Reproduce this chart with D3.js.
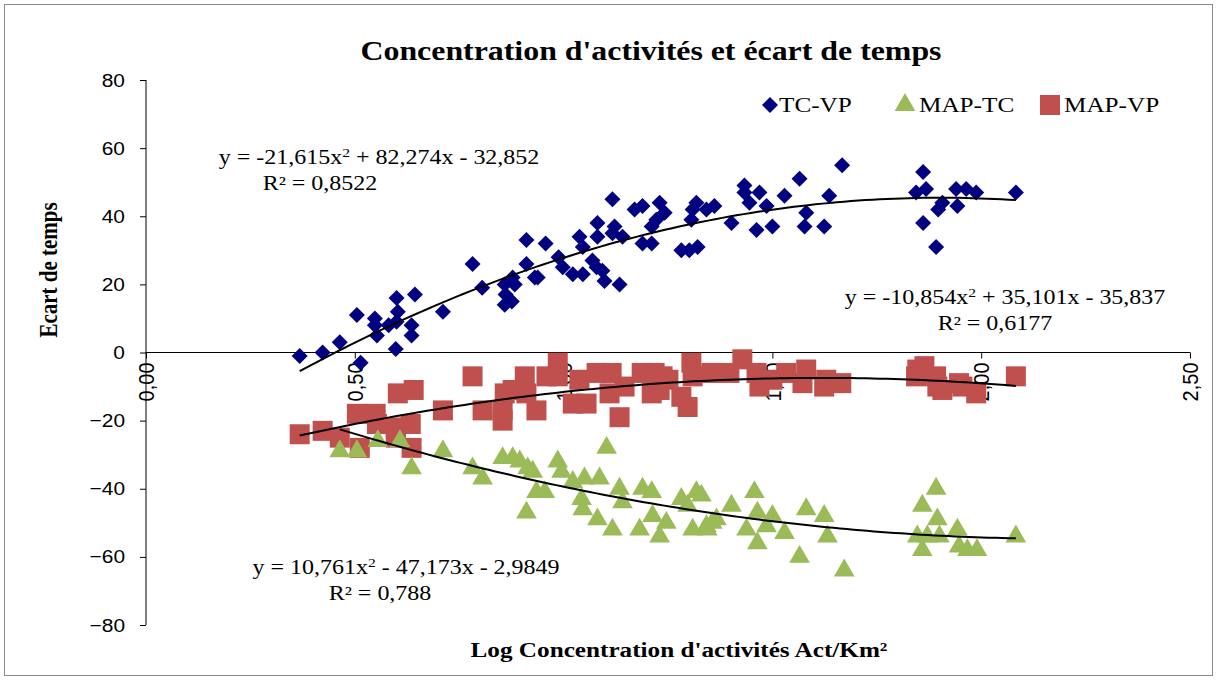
<!DOCTYPE html>
<html><head><meta charset="utf-8">
<script src="https://cdn.jsdelivr.net/npm/d3@7"></script>
<style>body{margin:0;background:#fff}svg{display:block}</style>
</head><body><svg id="c" width="1217" height="680"></svg>
<script>
const xTicks = [0, 0.5, 1.0, 1.5, 2.0, 2.5];
const yTicks = [80, 60, 40, 20, 0, -20, -40, -60, -80];

const tcvpX = [0.368,0.423,0.464,0.505,0.514,0.548,0.548,0.553,0.581,0.600,0.603,0.600,0.598,0.636,0.636,0.644,0.711,0.782,0.805,0.859,0.878,0.883,0.861,0.859,0.876,0.911,0.911,0.931,0.938,0.957,0.988,0.998,1.022,1.046,1.038,1.046,1.081,1.081,1.069,1.079,1.093,1.098,1.117,1.122,1.117,1.141,1.134,1.170,1.189,1.189,1.211,1.230,1.222,1.211,1.242,1.282,1.301,1.321,1.318,1.309,1.306,1.342,1.361,1.402,1.433,1.433,1.445,1.469,1.462,1.486,1.500,1.529,1.565,1.581,1.577,1.624,1.636,1.667,1.861,1.844,1.868,1.907,1.897,1.940,1.964,1.988,1.943,1.861,1.892,2.083];
const tcvpY = [-1,0,3,11,-3,10,8,5,8,16,12,9,1,8,5,17,12,26,19,20,22,20,17,14,15,33,26,22,22,32,28,25,23,23,34,31,38,34,27,25,24,21,45,37,35,34,20,42,43,32,32,44,39,37,41,30,30,31,44,42,39,42,43,38,49,47,44,47,36,43,37,46,51,41,37,37,46,55,53,47,48,44,42,48,48,47,43,38,31,47];

const maptcX = [0.464,0.505,0.555,0.608,0.636,0.711,0.782,0.806,0.854,0.878,0.895,0.914,0.926,0.935,0.955,0.911,0.986,0.995,1.022,1.050,1.043,1.046,1.086,1.081,1.103,1.134,1.117,1.141,1.189,1.211,1.182,1.213,1.230,1.246,1.282,1.318,1.297,1.309,1.342,1.366,1.330,1.356,1.344,1.402,1.457,1.464,1.438,1.464,1.500,1.486,1.529,1.581,1.565,1.624,1.632,1.672,1.892,1.859,1.895,1.847,1.871,1.900,1.943,1.859,1.947,1.967,1.990,2.083];
const maptcY = [-29,-29,-26,-26,-34,-29,-34,-37,-31,-31,-32,-34,-35,-41,-41,-47,-32,-35,-38,-37,-43,-46,-37,-49,-28,-40,-52,-44,-40,-41,-52,-48,-54,-50,-43,-41,-45,-52,-51,-49,-42,-50,-52,-45,-41,-47,-52,-56,-48,-51,-53,-46,-60,-48,-54,-64,-40,-45,-49,-54,-54,-54,-52,-58,-57,-58,-58,-54];

const mapvpX = [0.368,0.423,0.464,0.512,0.505,0.550,0.553,0.603,0.641,0.634,0.598,0.598,0.636,0.711,0.782,0.806,0.854,0.859,0.878,0.854,0.907,0.911,0.935,0.959,0.986,0.986,1.022,1.038,1.055,1.079,1.115,1.110,1.134,1.146,1.187,1.211,1.237,1.218,1.230,1.251,1.282,1.306,1.309,1.297,1.354,1.397,1.428,1.462,1.469,1.500,1.533,1.581,1.572,1.624,1.629,1.665,1.847,1.864,1.844,1.892,1.895,1.907,1.947,1.955,1.988,2.083];
const mapvpY = [-24,-23,-25,-28,-18,-18,-21,-12,-11,-21,-22,-25,-28,-17,-7,-17,-17,-12,-11,-20,-7,-12,-17,-7,-3,-7,-15,-8,-15,-6,-6,-12,-19,-10,-6,-12,-7,-6,-11,-8,-13,-3,-7,-16,-6,-6,-2,-6,-10,-8,-6,-5,-9,-10,-8,-9,-5,-4,-7,-7,-10,-11,-9,-10,-12,-7];

const coefTCVP = [-21.615, 82.274, -32.852];
const coefMAPTC = [10.761, -47.173, -2.9849];
const coefMAPVP = [-10.854, 35.101, -35.837];

const svg = d3.select("#c");
svg.append("rect").attr("x",4.5).attr("y",4.5).attr("width",1208).attr("height",671)
  .attr("fill","#fff").attr("stroke","#898989").attr("stroke-width",1);

const x = d3.scaleLinear().domain([0,2.5]).range([146,1190]);
const y = d3.scaleLinear().domain([-80,80]).range([625,80]);
const SX = 1.2; // horizontal text stretch

// y axis
const ya = svg.append("g").attr("transform","translate(146,0)")
  .call(d3.axisLeft(y).tickValues(yTicks).tickSize(6).tickPadding(0).tickFormat(d3.format("d")));
ya.selectAll("path,line").attr("stroke","#000");
ya.select("path").attr("d","M0,80V625");
ya.selectAll("text").attr("font-family","Liberation Sans, Arial").attr("font-size",19).attr("fill","#000")
  .attr("x",0).attr("transform","translate(-21,0) scale(1.1,1)");

// x axis at y=0
const xa = svg.append("g").attr("transform",`translate(0,${y(0)})`)
  .call(d3.axisBottom(x).tickValues(xTicks).tickSize(6).tickFormat(d=>d3.format(".2f")(d).replace(".",",")));
xa.selectAll("path,line").attr("stroke","#000");
xa.select("path").attr("d",`M146,0H1190`);
xa.selectAll("text").attr("font-family","Liberation Sans, Arial").attr("font-size",20).attr("fill","#000")
  .attr("text-anchor","end").attr("transform","scale(1.1,1) rotate(-90)").attr("x",-10).attr("y",0).attr("dy","0.35em");

// markers
const green = "#9BBB59", red = "#C0504D", navy = "#000080";
function mk(X,Y){return X.map((v,i)=>({x:v,y:Y[i]}));}
const sq = d3.symbol().type(d3.symbolSquare).size(400);
const tri = d3.symbol().type(d3.symbolTriangle).size(185);
const diaPath = d3.path(); const r=8; diaPath.moveTo(0,-r); diaPath.lineTo(r,0); diaPath.lineTo(0,r); diaPath.lineTo(-r,0); diaPath.closePath();
const dia = diaPath.toString();

svg.append("g").selectAll("path").data(mk(mapvpX,mapvpY)).join("path")
  .attr("d",sq).attr("transform",d=>`translate(${x(d.x)},${y(d.y)})`).attr("fill",red);
svg.append("g").selectAll("path").data(mk(maptcX,maptcY)).join("path")
  .attr("d",tri).attr("transform",d=>`translate(${x(d.x)},${y(d.y)})`).attr("fill",green);
svg.append("g").selectAll("path").data(mk(tcvpX,tcvpY)).join("path")
  .attr("d",dia).attr("transform",d=>`translate(${x(d.x)},${y(d.y)})`).attr("fill",navy);

// trend lines
function trend(coef, X){
  const lo=d3.min(X), hi=d3.max(X);
  const pts=d3.range(0,101).map(i=>{const t=lo+(hi-lo)*i/100;return [t,coef[0]*t*t+coef[1]*t+coef[2]];});
  svg.append("path").attr("d",d3.line().x(d=>x(d[0])).y(d=>y(d[1]))(pts))
    .attr("fill","none").attr("stroke","#000").attr("stroke-width",2);
}
trend(coefTCVP,tcvpX); trend(coefMAPTC,maptcX); trend(coefMAPVP,mapvpX);

// texts
const serif = "Liberation Serif, Times New Roman";
function T(tx,ty,anchor,size,bold,sx){
  return svg.append("g").attr("transform",`translate(${tx},${ty}) scale(${sx},1)`)
    .append("text").attr("text-anchor",anchor).attr("font-family",serif)
    .attr("font-weight",bold?"bold":"normal").attr("font-size",size);
}
T(651,60,"middle",27,true,1.18).text("Concentration d'activités et écart de temps");
svg.append("text").attr("transform","translate(57,270) rotate(-90) scale(1,1.15)").attr("text-anchor","middle")
  .attr("font-family",serif).attr("font-weight","bold").attr("font-size",21).text("Ecart de temps");
T(679,657,"middle",21,true,1.2).text("Log Concentration d'activités Act/Km²");

function eq(tx,ty,coef){
  const f=v=>Math.abs(v).toString().replace(".",",");
  const t=T(tx,ty,"middle",20,false,SX);
  t.append("tspan").text(`y = ${coef[0]<0?"-":""}${f(coef[0])}x`);
  t.append("tspan").attr("dy",-7).attr("font-size",13).text("2");
  t.append("tspan").attr("dy",7).text(` ${coef[1]<0?"-":"+"} ${f(coef[1])}x ${coef[2]<0?"-":"+"} ${f(coef[2])}`);
}
eq(379,164,coefTCVP);
T(320,190,"middle",20,false,SX).text("R² = 0,8522");
eq(1005,304,coefMAPVP);
T(995,330,"middle",20,false,SX).text("R² = 0,6177");
eq(406,574,coefMAPTC);
T(380,600,"middle",20,false,SX).text("R² = 0,788");

// legend
const leg = [{n:"TC-VP",s:dia,c:navy,x:770,tx:779},{n:"MAP-TC",s:tri,c:green,x:905,tx:919},{n:"MAP-VP",s:sq,c:red,x:1050,tx:1064}];
leg.forEach(l=>{
  svg.append("path").attr("d",l.s).attr("fill",l.c).attr("transform",`translate(${l.x},${105})`);
  T(l.tx,112,"start",21,false,1.2).text(l.n);
});
</script></body></html>
